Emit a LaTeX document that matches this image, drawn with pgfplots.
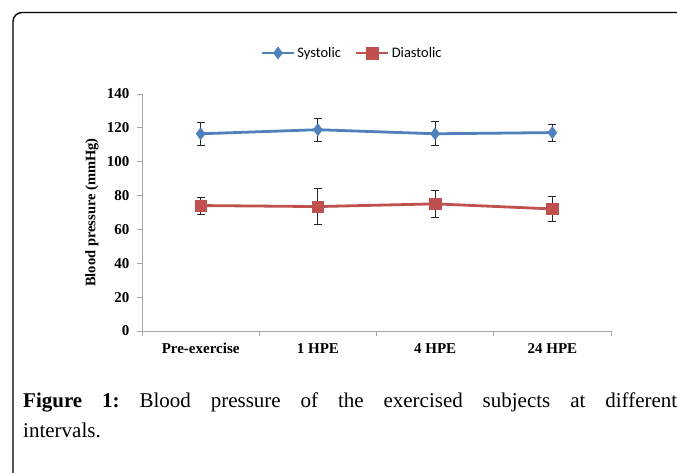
\documentclass[border=0pt]{standalone}
\usepackage{pgfplots}
\pgfplotsset{compat=1.18}
\usepackage{fontspec}
\setmainfont{Liberation Serif}
\newfontfamily\legfont{Carlito}

\definecolor{sysblue}{HTML}{4F81BD}
\definecolor{diared}{HTML}{C0504D}
\definecolor{axgray}{HTML}{A6A6A6}

\begin{document}
\frenchspacing
\begin{tikzpicture}[x=1pt,y=1pt]
  %% page = 677 x 473 px, 1px = 1pt
  \useasboundingbox (0,0) rectangle (677,473);
  %% frame: only top and left sides show
  \draw[line width=1.4pt, rounded corners=9pt] (13,-2) -- (13,460.5) -- (679,460.5);

  \begin{axis}[
      at={(142pt,142pt)}, anchor=south west,
      scale only axis,
      width=469pt, height=237pt,
      xmin=0, xmax=4,
      ymin=0, ymax=140,
      ytick={0,20,...,140},
      xtick={0.5,1.5,2.5,3.5},
      xticklabels={Pre-exercise, 1 HPE, 4 HPE, 24 HPE},
      minor xtick={0,1,2,3,4},
      major x tick style={draw=none},
      axis x line*=bottom,
      axis y line*=left,
      axis line style={axgray, line width=0.9pt},
      tick style={axgray, line width=0.9pt},
      tick align=outside,
      major tick length=5pt,
      minor tick length=5pt,
      tick label style={font=\fontsize{15}{16}\selectfont\bfseries},
      /pgf/number format/assume math mode=true,
      yticklabel style={xshift=-4pt},
      xticklabel style={yshift=-4pt},
      ylabel={Blood pressure (mmHg)},
      every axis y label/.style={at={(axis description cs:-0.1066,0.5)}, rotate=90, anchor=center,
        font=\fontsize{14.5}{16}\selectfont\bfseries},
      clip=false,
      legend columns=2,
      legend style={draw=none, fill=none, at={(axis description cs:0.448,1.173)}, anchor=center,
        font=\legfont\fontsize{14.5}{16}\selectfont,
        /tikz/every even column/.append style={column sep=12pt},
        inner sep=0pt},
      legend image code/.code={
        \draw[mark repeat=2, mark phase=2, #1] plot coordinates {(0pt,0pt) (16pt,0pt) (32pt,0pt)};},
    ]
    %% Systolic
    \addplot[color=sysblue, line width=2.8pt, mark=diamond*, mark size=6pt,
      mark options={solid, line width=0.5pt},
      error bars/.cd, y dir=both, y explicit,
      error bar style={black!85, line width=0.9pt},
      error mark options={rotate=90, black!85, mark size=4pt, line width=0.9pt}]
      coordinates {
        (0.5,116.5) +- (0,6.7)
        (1.5,118.9) +- (0,6.9)
        (2.5,116.5) +- (0,7.0)
        (3.5,117.2) +- (0,5.0)
      };
    \addlegendentry{Systolic}
    %% Diastolic
    \addplot[color=diared, line width=2.8pt, mark=square*, mark size=5.8pt,
      mark options={solid, line width=0.5pt},
      error bars/.cd, y dir=both, y explicit,
      error bar style={black!85, line width=0.9pt},
      error mark options={rotate=90, black!85, mark size=4pt, line width=0.9pt}]
      coordinates {
        (0.5,74.1) +- (0,5.0)
        (1.5,73.5) +- (0,10.5)
        (2.5,75.1) +- (0,8.0)
        (3.5,72.1) +- (0,7.5)
      };
    \addlegendentry{Diastolic}
  \end{axis}

  %% caption
  \node[anchor=north west, inner sep=0pt, text width=654pt, align=justify,
        font=\fontsize{21}{30}\selectfont] at (23,80)
    {\textbf{Figure 1:} Blood pressure of the exercised subjects at different\linebreak intervals.};
\end{tikzpicture}
\end{document}
